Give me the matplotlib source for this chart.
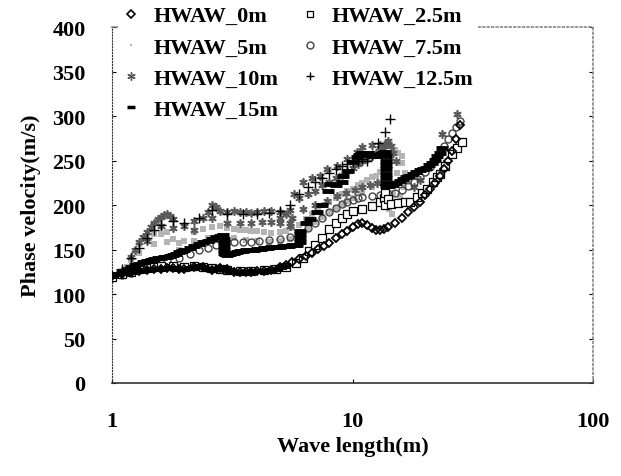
import matplotlib
matplotlib.use('Agg')
import matplotlib.pyplot as plt
from matplotlib.ticker import NullLocator

plt.rcParams['font.family'] = ['Liberation Serif', 'DejaVu Serif']
plt.rcParams['font.weight'] = 'bold'

# wave length (m) / phase velocity (m/s)
x_0m = [1.0, 1.1, 1.2, 1.3, 1.4, 1.5, 1.6, 1.7, 1.8, 1.9, 2.0, 2.2, 2.4, 2.6, 2.8,
        3.0, 3.2, 3.4, 3.6, 3.8, 4.0, 4.3, 4.6, 5.0, 5.3, 5.6, 6.0, 6.4, 6.8, 7.2, 7.6,
        8.0, 8.5, 9.0, 9.5, 10, 10.5, 11, 11.5, 12, 12.5, 13, 13.5, 14,
        15, 16, 17, 18, 19, 20, 21, 22, 23, 24, 25, 26, 27, 28]
y_0m = [120, 122, 125, 126, 127, 128, 128, 129, 129, 128, 128, 130, 130, 127, 129,
        128, 125, 125, 125, 125, 126, 126, 127, 130, 133, 136, 139, 143, 146, 151, 154,
        157, 163, 167, 171, 175, 179, 180, 178, 174, 172, 172, 173, 175,
        180, 186, 192, 198, 204, 211, 218, 225, 233, 240, 249, 261, 274, 290]

x_2_5m = [1.0, 1.1, 1.2, 1.3, 1.4, 1.5, 1.6, 1.8, 2.0, 2.2, 2.4, 2.6, 2.8, 3.0, 3.4, 3.8,
          4.3, 4.8, 5.3, 5.8, 6.2, 6.6, 7.0, 7.5, 8.0, 8.5, 9.0, 9.5, 10, 11, 12, 13, 13.5,
          13.7, 13.7, 14.0, 14.5, 15.5, 16.5, 17.3, 18.5, 19.5, 20.4, 21.6, 22.5, 23.1,
          24.3, 25.9, 27.2, 28.5]
y_2_5m = [119, 122, 125, 128, 129, 130, 131, 131, 130, 131, 130, 129, 128, 127, 126, 126,
          127, 128, 130, 135, 141, 148, 155, 163, 173, 180, 186, 190, 193, 196, 199, 203, 208,
          200, 214, 207, 201, 202, 203, 203, 209, 213, 218, 226, 231, 235,
          244, 257, 264, 271]

x_5m = [1.0, 1.05, 1.1, 1.15, 1.2, 1.25, 1.3, 1.4, 1.5, 1.6, 1.7, 1.8, 1.9, 2.0, 2.2, 2.4,
        2.6, 2.8, 3.0, 3.2, 3.4, 3.6, 3.8, 4.0, 4.3, 4.6, 5.0, 5.3, 5.6, 6.0, 6.4, 6.8, 7.2,
        7.6, 8.0, 8.5, 9.0, 9.5, 10, 10.5, 11, 11.5, 12, 12.5, 13, 13.5, 14, 14.5, 15, 15.5,
        16, 16.5, 17,
        1.3, 1.5, 1.7, 1.9, 2.2, 2.5, 2.8, 3.2, 3.6, 4.0, 4.5, 5.0, 5.5, 6.0, 6.5, 7.0, 7.5,
        8.0, 8.5, 9.0, 9.5, 10, 11, 12, 13, 14,
        14.2, 14.5, 14.8, 15.0, 15.3, 15.6, 16.0, 14.6, 15.2, 15.8, 16.4]
y_5m = [117, 120, 124, 130, 138, 148, 156, 164, 168, 167, 170, 162, 157, 160, 170, 173,
        175, 176, 174, 173, 172, 172, 171, 171, 170, 169, 170, 171, 174, 178, 184, 190, 196,
        200, 203, 208, 212, 216, 218, 222, 225, 228, 231, 233, 237, 240, 244, 250, 262, 258,
        247, 236, 226,
        146, 156, 158, 150, 160, 163, 165, 163, 161, 160, 159, 160, 162, 168, 174, 181, 187,
        192, 197, 201, 205, 208, 214, 220, 226, 232,
        196, 205, 214, 225, 236, 247, 255, 190, 200, 210, 220]

x_7_5m = [1.0, 1.1, 1.2, 1.3, 1.4, 1.5, 1.7, 1.9, 2.1, 2.3, 2.5, 2.7, 2.9, 3.2, 3.5, 3.8,
          4.1, 4.5, 5.0, 5.5, 6.0, 6.5, 7.0, 7.5, 8.0, 8.5, 9.0, 9.5, 10, 10.5, 11, 12, 13,
          14, 15, 16, 17, 18, 19, 20, 21, 22, 23, 24, 25, 26, 27, 28]
y_7_5m = [118, 121, 124, 127, 130, 133, 137, 141, 145, 149, 152, 155, 157, 158, 158, 159,
          160, 161, 162, 164, 168, 174, 180, 186, 192, 197, 201, 204, 206, 208, 209, 210, 211,
          212, 214, 217, 221, 226, 231, 237, 243, 250, 258, 266, 274, 281, 288, 294]

x_10m = [1.2, 1.25, 1.3, 1.35, 1.4, 1.45, 1.5, 1.55, 1.6, 1.65, 1.7, 1.75, 1.8, 2.0, 2.2,
         2.4, 2.5, 2.6, 2.7, 2.8, 3.0, 3.2, 3.4, 3.6, 3.8, 4.0, 4.3, 4.6, 5.0, 5.3, 5.6,
         1.4, 1.6, 1.8, 2.2, 2.6, 3.0, 3.4, 3.8, 4.2, 4.6, 5.0, 5.5,
         5.0, 5.5, 6.0, 6.5, 7.0, 7.5, 8.0, 8.5, 9.0, 9.5, 10, 10.5, 11, 11.5, 12, 12.5, 13, 13.5,
         5.5, 6.2, 7.0, 7.8, 8.6, 9.4, 10.2, 11.0, 11.8, 12.6,
         5.7, 6.2, 6.8, 7.3, 7.8, 8.6, 9.5, 10.4, 11.0, 12.0, 13.0, 13.9,
         13.2, 13.6, 14.0, 14.4, 14.8, 15.2,
         18, 19, 21, 23.6, 27.2]
y_10m = [142, 150, 158, 164, 170, 175, 180, 184, 187, 189, 190, 188, 184, 176, 182,
         186, 192, 200, 198, 193, 192, 193, 192, 192, 191, 192, 193, 193, 192, 190, 186,
         160, 176, 174, 172, 185, 180, 180, 180, 181, 181, 180, 176,
         185, 195, 208, 212, 216, 222, 226, 230, 234, 238, 242, 246, 249, 252, 255, 258, 262, 266,
         180, 196, 200, 205, 210, 214, 217, 220, 222, 225,
         212, 226, 230, 233, 240, 244, 252, 260, 265, 267, 268, 270,
         262, 268, 272, 266, 258, 250,
         220, 228, 245, 280, 302]

x_12_5m = [1.1, 1.2, 1.3, 1.4, 1.5, 1.6, 1.8, 2.0, 2.3, 2.6, 3.0, 3.5, 4.0, 4.5, 5.0, 5.5,
           6.0, 6.5, 7.0, 7.5, 8.0, 8.5, 9.0, 9.5, 10, 10.5, 11, 11.5, 12, 12.76, 13.65, 14.32]
y_12_5m = [128, 140, 152, 163, 172, 178, 182, 180, 185, 195, 190, 190, 190, 191, 193, 200,
           212, 220, 226, 230, 236, 240, 244, 246, 248, 250, 252, 249, 256, 270, 282, 297]

# 15m: upper branch, then the lower branch near 125-130 m/s
x_15m = [1.0, 1.05, 1.1, 1.15, 1.2, 1.25, 1.3, 1.35, 1.4, 1.45, 1.5, 1.55, 1.6, 1.65, 1.7,
         1.75, 1.8, 1.85, 1.9, 1.95, 2.0, 2.1, 2.2, 2.3, 2.4, 2.5, 2.6, 2.7, 2.8, 2.88,
         2.92, 2.92, 2.92, 2.92, 2.92, 2.95, 3.0, 3.1, 3.2, 3.3, 3.4, 3.5, 3.6, 3.7, 3.8, 3.9,
         4.0, 4.15, 4.3, 4.45, 4.6, 4.8, 5.0, 5.15, 5.3, 5.45, 5.6, 5.75, 5.9,
         6.05, 6.05, 6.05, 6.05,
         6.4, 6.66, 7.12, 7.5, 7.91, 8.06, 8.5, 9.04, 9.13, 9.58, 10.05,
         10.4, 10.6, 10.8, 11.0, 11.3, 11.6, 11.9, 12.2, 12.5, 12.8, 13.1, 13.4, 13.65,
         13.8, 13.8, 13.8, 13.8, 13.8, 13.8, 13.8, 13.8,
         14.2, 14.7, 15.2, 15.7, 16.2, 16.7, 17.2, 17.8, 18.4, 19.0, 19.6, 20.2, 20.8, 21.4,
         22.0, 22.5, 23.0, 23.5,
         1.15, 1.2, 1.25, 1.3, 1.35, 1.4, 1.45, 1.5, 1.55, 1.6, 1.65, 1.7, 1.75, 1.8, 1.85,
         1.9, 1.95, 2.0, 2.1, 2.2, 2.3, 2.4, 2.5, 2.6, 2.7, 2.8, 2.9, 3.0, 3.1, 3.2, 3.3, 3.4,
         3.5, 3.6, 3.7, 3.8, 3.9, 4.0, 4.2, 4.4, 4.6, 4.8, 5.0, 5.2]
y_15m = [120, 122, 126, 128, 130, 133, 134, 136, 137, 138, 139, 140, 140, 142, 142,
         143, 144, 145, 147, 148, 149, 152, 154, 156, 158, 160, 162, 164, 165, 166,
         162, 158, 154, 150, 146, 145, 144, 145, 146, 147, 148, 148, 149, 149, 150, 150,
         151, 151, 152, 152, 153, 153, 153, 154, 154, 154, 155, 155, 155,
         159, 163, 167, 171,
         180, 184, 192, 200, 216, 224, 222, 226, 233, 238, 248,
         254, 256, 257, 258, 259, 258, 256, 255, 255, 256, 257, 259, 260,
         255, 250, 245, 240, 235, 230, 225, 221,
         221, 223, 225, 227, 229, 231, 233, 235, 237, 239, 240, 242, 245, 247,
         251, 255, 259, 264,
         124, 125, 126, 126, 127, 127, 128, 128, 128, 128, 129, 129, 129, 129, 128,
         128, 128, 128, 129, 130, 131, 130, 128, 127, 128, 130, 129, 127, 126, 125, 125, 125,
         125, 125, 125, 125, 126, 126, 126, 126, 127, 128, 130, 132]

y_ticks = [0, 50, 100, 150, 200, 250, 300, 350, 400]
x_ticks = [1, 10, 100]

fig = plt.figure(figsize=(6.21, 4.77), dpi=100)
ax = fig.add_axes([0.1804, 0.195, 0.7746, 0.746])

h5, = ax.plot(x_5m, y_5m, ls='none', marker='s', ms=5, mew=0, color='#b4b4b4', label='HWAW_5m')
h10, = ax.plot(x_10m, y_10m, ls='none', marker=(6, 2, 0), ms=6, mew=1.2, color='#5a5a5a', label='HWAW_10m')
h125, = ax.plot(x_12_5m, y_12_5m, ls='none', marker='+', ms=7, mew=1.0, color='k', label='HWAW_12.5m')
h75, = ax.plot(x_7_5m, y_7_5m, ls='none', marker='o', ms=5, mfc='none', mec='#444444', mew=1.0, label='HWAW_7.5m')
h25, = ax.plot(x_2_5m, y_2_5m, ls='none', marker='s', ms=6, mfc='white', mec='k', mew=0.9, label='HWAW_2.5m')
h0, = ax.plot(x_0m, y_0m, ls='none', marker='D', ms=4.5, mfc='none', mec='k', mew=1.3, label='HWAW_0m')
h15, = ax.plot(x_15m, y_15m, ls='none', marker='_', ms=8, mew=3.5, color='k', label='HWAW_15m')
for h in [h5, h10, h125, h75, h25, h0, h15]:
    h.set_zorder(3)

ax.set_xscale('log')
ax.set_xlim(1, 100)
ax.set_ylim(0, 400)
ax.set_xticks(x_ticks)
ax.set_xticklabels([str(v) for v in x_ticks])
ax.xaxis.set_minor_locator(NullLocator())
ax.set_yticks(y_ticks)
ax.tick_params(axis='both', direction='in', length=3, width=0.8, labelsize=16, pad=19)
ax.tick_params(axis='y', right=True)
ax.tick_params(axis='x', pad=20)

ax.spines['left'].set_linestyle(':')
ax.spines['left'].set_color('#333333')
ax.spines['bottom'].set_color('#333333')
ax.spines['bottom'].set_linewidth(1.2)
for s in ['top', 'right']:
    ax.spines[s].set_linestyle(':')
    ax.spines[s].set_color('#888888')
    ax.spines[s].set_linewidth(1.2)

ax.set_xlabel('Wave length(m)', fontsize=16, fontweight='bold', labelpad=4)
ax.set_ylabel('Phase velocity(m/s)', fontsize=16, fontweight='bold', labelpad=8)

# legend sits over the top spine but under the markers
handles = [h0, h5, h10, h15, h25, h75, h125]
leg = ax.legend(handles=handles, labels=[h.get_label() for h in handles], ncol=2,
                loc='upper left', bbox_to_anchor=(0.19, 0.995), bbox_transform=fig.transFigure,
                fontsize=16, frameon=True, facecolor='white', edgecolor='none', framealpha=1,
                handlelength=0.8, handletextpad=0.6, columnspacing=1.0,
                labelspacing=0.48, borderpad=0.2, borderaxespad=0.0)
leg.set_zorder(2.7)
for h, ms, mw in zip(leg.legend_handles, [4, 2, 6, 6, 5, 5, 6], [1.2, 0, 1.0, 2.5, 0.9, 1.0, 1.0]):
    h.set_markersize(ms)
    h.set_markeredgewidth(mw)

fig.savefig('out.png', dpi=100)
